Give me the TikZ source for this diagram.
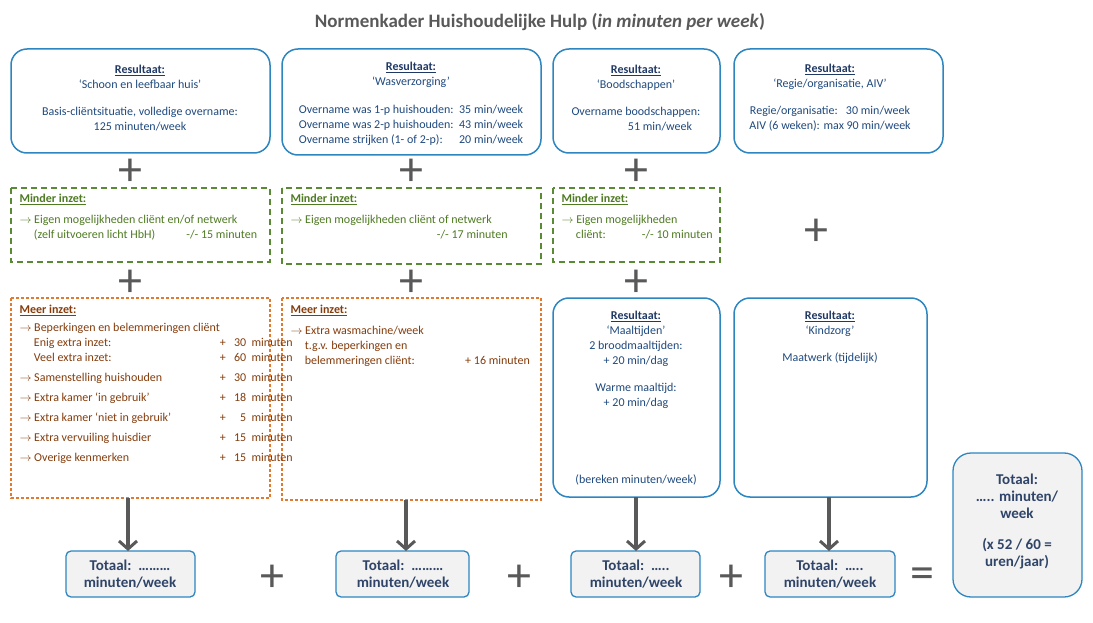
\documentclass[tikz,border=0pt]{standalone}
\usepackage{fontspec}
\setmainfont{Carlito}
\usetikzlibrary{arrows.meta}
\definecolor{bl}{HTML}{2E86C1}
\definecolor{hd}{HTML}{1F3864}
\definecolor{tx}{HTML}{1F497D}
\definecolor{gr}{HTML}{5A8A33}
\definecolor{gt}{HTML}{4E7A22}
\definecolor{orb}{HTML}{E07A30}
\definecolor{ot}{HTML}{843C0C}
\definecolor{gy}{HTML}{595959}
\definecolor{tf}{HTML}{F2F2F2}
\definecolor{tt}{HTML}{2F4468}
\tikzset{
 res/.style={draw=bl,line width=1.5pt,rounded corners=16pt,inner sep=0},
 mind/.style={draw=gr,line width=1.3pt,dash pattern=on 6pt off 4pt},
 meer/.style={draw=orb,line width=1.3pt,dash pattern=on 3pt off 2pt},
 tot/.style={draw=bl,line width=1.3pt,fill=tf,rounded corners=5pt},
 txt/.style={font=\fontsize{12}{15}\selectfont,text=tx,align=center},
 pl/.style={font=\fontsize{48}{48}\selectfont,text=gy},
 arr/.style={draw=gy,line width=3.5pt,-{Straight Barb[length=8pt,width=18pt,line width=3pt]}},
 tl/.style={font=\bfseries\fontsize{15}{17}\selectfont,text=tt,align=center}
}
\newcommand{\hdr}[1]{\textbf{\underline{#1}}}
\begin{document}
\begin{tikzpicture}[x=1pt,y=-1pt]
\useasboundingbox (0,0) rectangle (1093,623);
\node[font=\bfseries\fontsize{19}{21}\selectfont,text=gy] (title) at (540,22) {Normenkader Huishoudelijke Hulp (\textit{in minuten per week})};
% row 1
\draw[res] (11,49) rectangle (270,153);
\draw[res] (282,49) rectangle (541,155);
\draw[res] (553,49) rectangle (720,153);
\draw[res] (734,49) rectangle (943,153);
\node[txt] (a1) at (140,98) {\color{hd}\hdr{Resultaat:}\\`Schoon en leefbaar huis'\\[12pt]Basis-cliëntsituatie, volledige overname:\\125 minuten/week};
\node[txt,anchor=north] (b1) at (411,59) {\color{hd}\hdr{Resultaat:}\\`Wasverzorging'};
\node[txt,anchor=north,align=left,font=\fontsize{12}{15}\selectfont] (b2) at (411,99) {\begin{tabular}{@{}l@{\ \ }l@{}}Overname was 1-p huishouden: & 35 min/week\\Overname was 2-p huishouden: & 43 min/week\\Overname strijken (1- of 2-p): & 20 min/week\end{tabular}};
\node[txt] (c1) at (636,98) {\color{hd}\hdr{Resultaat:}\\`Boodschappen'\\[12pt]Overname boodschappen:\\\hspace*{4em}51 min/week};
\node[txt] (d1) at (830,98) {\color{hd}\hdr{Resultaat:}\\`Regie/organisatie, AIV'\\[12pt]Regie/organisatie:\ \ \ 30 min/week\\AIV (6 weken): max 90 min/week};
% pluses
\foreach \x/\y in {130/172,411/172,636/172,816/232,130/283,411/283,636/283,272/578,519/578,731/578}
  \node[pl] at (\x,\y) {+};
\node[pl] at (922,578) {=};
% minder
\draw[mind] (11,188) rectangle (270,262);
\draw[mind] (282,188) rectangle (541,264);
\draw[mind] (553,188) rectangle (720,262);
\node[txt,text=gt,align=left,anchor=north west] (a2) at (16,191) {\hdr{Minder inzet:}\\[6pt]$\rightarrow$ Eigen mogelijkheden cliënt en/of netwerk\\\hspace*{1.2em}(zelf uitvoeren licht HbH)\hspace{2.6em}-/- 15 minuten};
\node[txt,text=gt,align=left,anchor=north west] (b3) at (287,191) {\hdr{Minder inzet:}\\[6pt]$\rightarrow$ Eigen mogelijkheden cliënt of netwerk\\\hspace*{12.2em}-/- 17 minuten};
\node[txt,text=gt,align=left,anchor=north west] (c2) at (558,191) {\hdr{Minder inzet:}\\[6pt]$\rightarrow$ Eigen mogelijkheden\\\hspace*{1.2em}cliënt:\hspace{3em}-/- 10 minuten};
% meer
\draw[meer] (11,298) rectangle (270,498);
\draw[meer] (282,298) rectangle (541,500);
\node[txt,text=ot,align=left,anchor=north west] (a3) at (16,302) {\hdr{Meer inzet:}\\[4pt]
\begin{tabular}{@{}l@{}r@{\ \ \ }r@{\ \ }l@{}}
$\rightarrow$ Beperkingen en belemmeringen cliënt&&&\\
\hspace*{1.2em}Enig extra inzet:&+&30&minuten\\
\hspace*{1.2em}Veel extra inzet:&+&60&minuten\\[5pt]
$\rightarrow$ Samenstelling huishouden&+&30&minuten\\[5pt]
$\rightarrow$ Extra kamer `in gebruik'&+&18&minuten\\[5pt]
$\rightarrow$ Extra kamer `niet in gebruik'\ &+&5&minuten\\[5pt]
$\rightarrow$ Extra vervuiling huisdier&+&15&minuten\\[5pt]
$\rightarrow$ Overige kenmerken&+&15&minuten
\end{tabular}};
\node[txt,text=ot,align=left,anchor=north west] (b4) at (287,302) {\hdr{Meer inzet:}\\[6pt]$\rightarrow$ Extra wasmachine/week\\\hspace*{1.2em}t.g.v. beperkingen en\\\hspace*{1.2em}belemmeringen cliënt:\hspace{4.2em}+ 16 minuten};
% row 3 blue
\draw[res] (553,298) rectangle (720,497);
\draw[res] (734,298) rectangle (927,497);
\node[txt,anchor=north] (c3) at (636,308) {\color{hd}\hdr{Resultaat:}\\`Maaltijden'\\2 broodmaaltijden:\\+ 20 min/dag\\[12pt]Warme maaltijd:\\+ 20 min/dag};
\node[txt] (c4) at (636,480) {(bereken minuten/week)};
\node[txt,anchor=north] (d2) at (830,308) {\color{hd}\hdr{Resultaat:}\\`Kindzorg'\\[12pt]Maatwerk (tijdelijk)};
% totals
\draw[tot] (66,551) rectangle (195,597);
\draw[tot] (336,551) rectangle (469,597);
\draw[tot] (571,551) rectangle (700,597);
\draw[tot] (765,551) rectangle (895,597);
\draw[tot,rounded corners=18pt] (953,453) rectangle (1082,597);
\node[tl] (t1) at (130,574) {Totaal:\ \ ………\\minuten/week};
\node[tl] (t2) at (403,574) {Totaal:\ \ ………\\minuten/week};
\node[tl] (t3) at (636,574) {Totaal:\ \ …..\\minuten/week};
\node[tl] (t4) at (830,574) {Totaal:\ \ …..\\minuten/week};
\node[tl] (t5) at (1017,522) {Totaal:\\….. minuten/\\week\\[14pt](x 52 / 60 =\\uren/jaar)};
\coordinate (s1) at (128,498); \coordinate (e1) at (128,551);
\coordinate (s2) at (406,500); \coordinate (e2) at (406,551);
\coordinate (s3) at (636,497); \coordinate (e3) at (636,551);
\coordinate (s4) at (829,497); \coordinate (e4) at (829,551);
\foreach \i in {1,2,3,4} \draw[arr] (s\i) -- (e\i);
\end{tikzpicture}
\end{document}
